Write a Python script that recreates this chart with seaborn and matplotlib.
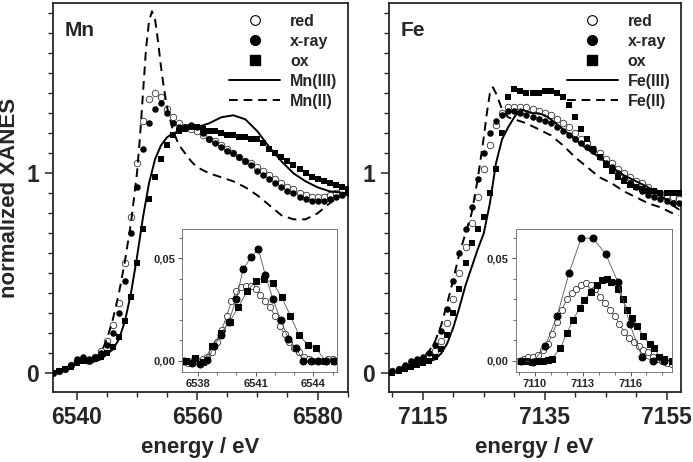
import numpy as np
import pandas as pd
import matplotlib.pyplot as plt
import seaborn as sns
from matplotlib.lines import Line2D
from matplotlib.ticker import MultipleLocator, FixedLocator

sns.set_style("ticks")
plt.rcParams['font.family'] = ['Liberation Sans', 'DejaVu Sans']
plt.rcParams['font.weight'] = 'bold'

# ---------------- Mn K-edge ----------------
mn_e = np.arange(6536, 6586)
mn_red = [0.00, 0.01, 0.02, 0.04, 0.06, 0.07, 0.06, 0.08, 0.11, 0.16,
          0.24, 0.35, 0.55, 0.78, 1.05, 1.26, 1.37, 1.40, 1.38, 1.32,
          1.28, 1.25, 1.23, 1.22, 1.21, 1.19, 1.17, 1.16, 1.14, 1.12,
          1.10, 1.08, 1.06, 1.05, 1.03, 1.01, 0.99, 0.97, 0.95, 0.93,
          0.92, 0.90, 0.89, 0.88, 0.88, 0.88, 0.89, 0.90, 0.91, 0.92]
mn_xray = [0.00, 0.01, 0.02, 0.04, 0.07, 0.08, 0.07, 0.08, 0.10, 0.14,
           0.20, 0.30, 0.46, 0.70, 0.93, 1.12, 1.25, 1.32, 1.35, 1.30,
           1.25, 1.23, 1.23, 1.24, 1.23, 1.20, 1.17, 1.15, 1.13, 1.11,
           1.10, 1.08, 1.06, 1.04, 1.01, 0.99, 0.97, 0.95, 0.93, 0.91,
           0.90, 0.88, 0.87, 0.86, 0.86, 0.86, 0.87, 0.88, 0.89, 0.90]
mn_ox = [0.00, 0.01, 0.02, 0.03, 0.05, 0.06, 0.06, 0.07, 0.08, 0.10,
         0.13, 0.18, 0.26, 0.38, 0.55, 0.72, 0.87, 0.98, 1.07, 1.14,
         1.19, 1.21, 1.22, 1.23, 1.23, 1.22, 1.21, 1.21, 1.20, 1.19,
         1.19, 1.18, 1.18, 1.17, 1.17, 1.15, 1.12, 1.10, 1.08, 1.06,
         1.04, 1.02, 1.00, 0.98, 0.97, 0.96, 0.95, 0.94, 0.93, 0.92]
mn3_e = [6536, 6538, 6540, 6541, 6542, 6544, 6546, 6547, 6548, 6549, 6550,
         6551, 6552, 6553, 6554, 6555, 6556, 6558, 6560, 6562, 6564, 6566,
         6568, 6570, 6572, 6574, 6576, 6578, 6580, 6582, 6585]
mn3_y = [0.00, 0.02, 0.05, 0.06, 0.05, 0.07, 0.12, 0.17, 0.26, 0.40, 0.58,
         0.78, 0.95, 1.07, 1.14, 1.18, 1.20, 1.22, 1.23, 1.25, 1.28, 1.29,
         1.27, 1.21, 1.13, 1.06, 1.00, 0.96, 0.93, 0.91, 0.90]
mn2_e = [6536, 6538, 6540, 6542, 6543, 6544, 6545, 6546, 6547, 6548, 6549,
         6550, 6550.5, 6551, 6551.5, 6552, 6552.5, 6553, 6553.5, 6554,
         6554.5, 6555, 6556, 6557, 6558, 6559, 6560, 6562, 6564, 6566,
         6568, 6570, 6572, 6574, 6576, 6578, 6580, 6582, 6584, 6585]
mn2_y = [0.00, 0.02, 0.05, 0.06, 0.08, 0.10, 0.17, 0.27, 0.40, 0.56, 0.75,
         1.00, 1.18, 1.40, 1.62, 1.76, 1.81, 1.77, 1.66, 1.53,
         1.42, 1.33, 1.21, 1.14, 1.10, 1.06, 1.03, 1.00, 0.98, 0.96,
         0.93, 0.89, 0.84, 0.79, 0.77, 0.77, 0.80, 0.85, 0.89, 0.90]

# Mn pre-edge (inset)
mn_pre_red_e = [6537.25, 6537.5, 6537.75, 6538.0, 6538.25, 6538.5, 6538.75,
                6539.0, 6539.25, 6539.5, 6539.75, 6540.0, 6540.25, 6540.5,
                6540.75, 6541.0, 6541.25, 6541.5, 6541.75, 6542.0, 6542.25,
                6542.5, 6542.75, 6543.0, 6543.25, 6543.5, 6543.75, 6544.0,
                6544.25, 6544.5, 6544.75, 6545.0]
mn_pre_red = [0.000, -0.001, 0.000, 0.000, 0.001, 0.002, 0.004,
              0.009, 0.015, 0.022, 0.029, 0.034, 0.036, 0.0365,
              0.0365, 0.035, 0.032, 0.029, 0.026, 0.022, 0.017,
              0.013, 0.009, 0.006, 0.004, 0.002, 0.001, 0.000,
              0.000, 0.000, 0.001, 0.001]
mn_pre_xray_e = [6537.3, 6537.7, 6538.1, 6538.5, 6538.85, 6539.2, 6539.6,
                 6540.0, 6540.35, 6540.75, 6541.15, 6541.5, 6541.9, 6542.3,
                 6542.7, 6543.1, 6543.45, 6543.85, 6544.25, 6544.65, 6545.05]
mn_pre_xray = [0.000, -0.001, -0.0015, 0.0003, 0.007, 0.0125, 0.019,
               0.030, 0.0446, 0.0505, 0.0544, 0.042, 0.030, 0.020,
               0.0106, 0.006, 0.000, 0.000, 0.000, 0.000, 0.000]
mn_pre_ox_e = [6537.4, 6537.85, 6538.3, 6538.75, 6539.2, 6539.65, 6540.1,
               6540.55, 6541.0, 6541.45, 6541.9, 6542.35, 6542.8, 6543.25,
               6543.7, 6544.15, 6544.6, 6545.05]
mn_pre_ox = [0.000, 0.0015, -0.0005, 0.007, 0.0135, 0.019, 0.026,
             0.034, 0.039, 0.040, 0.038, 0.031, 0.022, 0.0125,
             0.0078, 0.006, 0.000, 0.000]

# ---------------- Fe K-edge ----------------
fe_e = np.arange(7109, 7158)
fe_red = [0.00, 0.01, 0.02, 0.03, 0.05, 0.06, 0.07, 0.08, 0.11, 0.16,
          0.25, 0.37, 0.50, 0.63, 0.75, 0.88, 1.02, 1.14, 1.24, 1.30,
          1.33, 1.33, 1.33, 1.33, 1.32, 1.31, 1.30, 1.29, 1.27, 1.25,
          1.23, 1.20, 1.17, 1.15, 1.12, 1.10, 1.07, 1.05, 1.02, 1.00,
          0.98, 0.96, 0.95, 0.93, 0.91, 0.90, 0.89, 0.88, 0.87]
fe_xray = [0.00, 0.01, 0.02, 0.04, 0.06, 0.07, 0.08, 0.10, 0.14, 0.21,
           0.32, 0.46, 0.60, 0.72, 0.83, 0.97, 1.10, 1.20, 1.26, 1.29,
           1.31, 1.31, 1.30, 1.29, 1.28, 1.27, 1.26, 1.25, 1.23, 1.21,
           1.19, 1.17, 1.15, 1.13, 1.11, 1.08, 1.05, 1.03, 1.00, 0.97,
           0.95, 0.93, 0.91, 0.89, 0.88, 0.87, 0.86, 0.85, 0.85]
fe_ox = [0.00, 0.00, 0.01, 0.02, 0.03, 0.04, 0.05, 0.06, 0.08, 0.12,
         0.19, 0.30, 0.42, 0.55, 0.65, 0.72, 0.78, 0.90, 1.02, 1.20,
         1.38, 1.42, 1.41, 1.40, 1.40, 1.40, 1.41, 1.41, 1.40, 1.38,
         1.34, 1.28, 1.22, 1.17, 1.12, 1.08, 1.04, 1.01, 0.98, 0.96,
         0.94, 0.93, 0.92, 0.91, 0.91, 0.90, 0.90, 0.90, 0.90]
fe3_e = [7109, 7111, 7113, 7115, 7117, 7118, 7119, 7120, 7121, 7122, 7123,
         7124, 7125, 7126, 7127, 7128, 7129, 7130, 7131, 7132, 7133, 7134,
         7135, 7136, 7138, 7140, 7142, 7144, 7146, 7148, 7150, 7152, 7154,
         7156, 7157]
fe3_y = [0.00, 0.01, 0.03, 0.05, 0.07, 0.10, 0.15, 0.23, 0.33, 0.44, 0.53,
         0.62, 0.70, 0.85, 1.05, 1.17, 1.23, 1.28, 1.32, 1.31, 1.30, 1.30,
         1.29, 1.27, 1.22, 1.17, 1.12, 1.08, 1.03, 0.99, 0.96, 0.93, 0.89,
         0.84, 0.82]
fe2_e = [7109, 7111, 7113, 7115, 7116, 7117, 7118, 7119, 7120, 7121, 7122,
         7123, 7124, 7125, 7125.5, 7126, 7126.5, 7127, 7128, 7129, 7130,
         7132, 7134, 7136, 7138, 7140, 7142, 7144, 7146, 7148, 7150, 7152,
         7154, 7156, 7157]
fe2_y = [0.00, 0.02, 0.05, 0.08, 0.11, 0.16, 0.24, 0.35, 0.47, 0.60, 0.70,
         0.80, 0.97, 1.18, 1.30, 1.40, 1.43, 1.40, 1.32, 1.28, 1.27,
         1.25, 1.22, 1.19, 1.14, 1.08, 1.03, 0.98, 0.95, 0.91, 0.88, 0.85,
         0.83, 0.80, 0.79]

# Fe pre-edge (inset)
fe_pre_red_e = [7109.0, 7109.3, 7109.6, 7109.9, 7110.2, 7110.5, 7110.8,
                7111.1, 7111.4, 7111.7, 7112.0, 7112.3, 7112.6, 7112.9,
                7113.2, 7113.5, 7113.8, 7114.1, 7114.4, 7114.7, 7115.0,
                7115.3, 7115.6, 7115.9, 7116.2, 7116.5, 7116.8, 7117.1,
                7117.4, 7117.7, 7118.0, 7118.3, 7118.6]
fe_pre_red = [0.000, 0.001, 0.002, 0.002, 0.003, 0.005, 0.008,
              0.013, 0.019, 0.025, 0.030, 0.033, 0.035, 0.037,
              0.038, 0.037, 0.035, 0.031, 0.028, 0.025, 0.022,
              0.018, 0.014, 0.011, 0.009, 0.007, 0.005, 0.004,
              0.002, 0.001, 0.000, -0.001, -0.0015]
fe_pre_xray_e = [7109.1, 7109.9, 7110.65, 7111.4, 7112.15, 7112.9, 7113.65,
                 7114.45, 7115.2, 7115.95, 7116.7, 7117.4, 7118.1]
fe_pre_xray = [0.000, -0.0005, 0.007, 0.022, 0.043, 0.0598, 0.060,
               0.052, 0.0386, 0.018, 0.002, 0.000, 0.000]
fe_pre_ox_e = [7109.1, 7109.45, 7109.8, 7110.15, 7110.5, 7110.8, 7111.05,
               7111.6, 7112.0, 7112.4, 7112.8, 7113.1, 7113.55, 7113.9,
               7114.2, 7114.5, 7114.8, 7115.2, 7115.5, 7115.8, 7116.1,
               7116.4, 7116.8, 7117.2, 7117.5, 7117.8, 7118.1, 7118.6]
fe_pre_ox = [0.000, 0.000, -0.0005, 0.000, 0.000, 0.0005, 0.001,
             0.006, 0.0134, 0.020, 0.0256, 0.0296, 0.0337, 0.037,
             0.0394, 0.040, 0.0386, 0.035, 0.030, 0.025, 0.0207,
             0.017, 0.012, 0.008, 0.006, 0.002, 0.001, 0.000]


def main_panel(ax, e, red, xray, ox, l3e, l3, l2e, l2, elem, xlim, xmaj):
    sns.scatterplot(x=e, y=red, ax=ax, marker='o', s=22, facecolor='white',
                    edgecolor='#333333', linewidth=0.6, zorder=3)
    sns.scatterplot(x=e, y=xray, ax=ax, marker='o', s=22, color='black',
                    edgecolor='black', linewidth=0, zorder=3)
    sns.scatterplot(x=e, y=ox, ax=ax, marker='s', s=18, color='black',
                    edgecolor='black', linewidth=0, zorder=3)
    sns.lineplot(x=l3e, y=l3, ax=ax, color='black', lw=1.4, zorder=4)
    sns.lineplot(x=l2e, y=l2, ax=ax, color='black', lw=1.4,
                 linestyle=(0, (4.5, 3)), zorder=4)
    ax.set_xlim(*xlim)
    ax.set_ylim(-0.092, 1.85)
    ax.xaxis.set_major_locator(FixedLocator(xmaj))
    ax.xaxis.set_minor_locator(MultipleLocator(5))
    ax.yaxis.set_major_locator(FixedLocator([0, 1]))
    ax.yaxis.set_minor_locator(MultipleLocator(0.1))
    ax.tick_params(which='major', length=6, width=1.1, labelsize=16.5, pad=4)
    ax.tick_params(which='minor', length=3.5, width=1.0)
    for s in ax.spines.values():
        s.set_linewidth(1.3)
    ax.set_xlabel('energy / eV', fontsize=16, fontweight='bold', labelpad=6)
    ax.text(0.04, 0.955, elem, transform=ax.transAxes, fontsize=15,
            fontweight='bold', va='top', ha='left')
    handles = [
        Line2D([], [], marker='o', ls='none', mfc='white', mec='black',
               ms=7, mew=0.8),
        Line2D([], [], marker='o', ls='none', color='black', ms=7),
        Line2D([], [], marker='s', ls='none', color='black', ms=6.5),
        Line2D([], [], color='black', lw=1.4),
        Line2D([], [], color='black', lw=1.4, ls=(0, (4.5, 3))),
    ]
    labels = ['red', 'x-ray', 'ox', elem + '(III)', elem + '(II)']
    ax.legend(handles, labels, loc='upper right', frameon=False,
              handlelength=3.2, handletextpad=0.6,
              labelspacing=0.32, borderaxespad=0.25,
              prop={'weight': 'bold', 'size': 11.5})


def inset(fig, rect, re, r, xe, x, oe, o, xlim, xmaj):
    ax = fig.add_axes(rect)
    ax.set_facecolor('white')
    sns.lineplot(x=re, y=r, ax=ax, color='#555555', lw=0.6, marker='o',
                 ms=4.5, mfc='white', mec='#333333', mew=0.6)
    sns.lineplot(x=oe, y=o, ax=ax, color='#555555', lw=0.6, marker='s',
                 ms=4.2, mfc='black', mec='black')
    sns.lineplot(x=xe, y=x, ax=ax, color='#555555', lw=0.6, marker='o',
                 ms=5, mfc='black', mec='black')
    ax.set_xlim(*xlim)
    ax.set_ylim(-0.0054, 0.0642)
    ax.xaxis.set_major_locator(FixedLocator(xmaj))
    ax.xaxis.set_minor_locator(MultipleLocator(1))
    ax.yaxis.set_major_locator(FixedLocator([0, 0.05]))
    ax.yaxis.set_minor_locator(MultipleLocator(0.01))
    ax.set_yticklabels(['0,00', '0,05'])
    ax.tick_params(which='major', length=3, width=0.7, labelsize=8, pad=2,
                   color='#555555')
    ax.tick_params(which='minor', length=2, width=0.6, color='#555555')
    for s in ax.spines.values():
        s.set_linewidth(0.7)
        s.set_edgecolor('#777777')
    ax.set_xlabel('')
    ax.set_ylabel('')
    return ax


fig = plt.figure(figsize=(6.93, 4.62), dpi=100)
ax1 = fig.add_axes([0.076, 0.152, 0.4257, 0.841])
ax2 = fig.add_axes([0.561, 0.152, 0.421, 0.841])

main_panel(ax1, mn_e, mn_red, mn_xray, mn_ox, mn3_e, mn3_y, mn2_e, mn2_y,
           'Mn', (6536, 6585), [6540, 6560, 6580])
main_panel(ax2, fe_e, fe_red, fe_xray, fe_ox, fe3_e, fe3_y, fe2_e, fe2_y,
           'Fe', (7109.4, 7157.3), [7115, 7135, 7155])
ax1.set_ylabel('normalized XANES', fontsize=16, fontweight='bold', labelpad=4)
ax2.set_ylabel('')

inset(fig, [0.263, 0.1955, 0.2228, 0.308], mn_pre_red_e, mn_pre_red,
      mn_pre_xray_e, mn_pre_xray, mn_pre_ox_e, mn_pre_ox,
      (6537.2, 6545.2), [6538, 6541, 6544])
inset(fig, [0.7442, 0.1955, 0.2255, 0.308], fe_pre_red_e, fe_pre_red,
      fe_pre_xray_e, fe_pre_xray, fe_pre_ox_e, fe_pre_ox,
      (7108.8, 7118.6), [7110, 7113, 7116])

fig.savefig('out.png', dpi=100)
